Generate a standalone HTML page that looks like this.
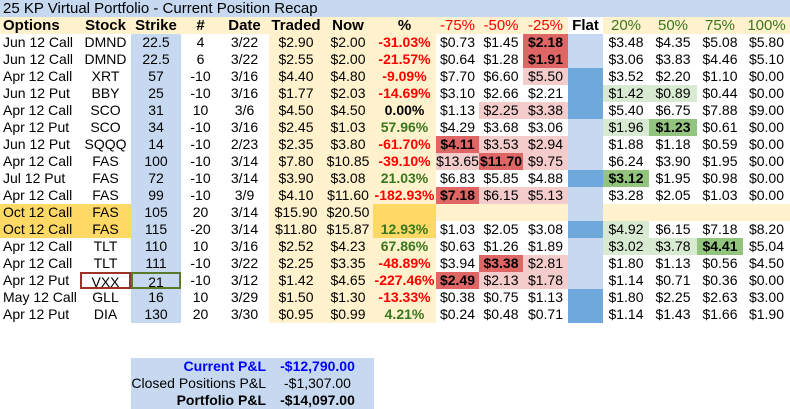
<!DOCTYPE html>
<html><head><meta charset="utf-8">
<style>
body{margin:0;width:790px;height:409px;background:#fff;font-family:"Liberation Sans",Arial,sans-serif;overflow:hidden;position:relative}
.c{position:absolute;height:17px;line-height:17px;font-size:14px;color:#000;white-space:nowrap;box-sizing:border-box}
.title{position:absolute;left:0;top:0;width:790px;height:17px;background:#c6d9f0;font-size:15px;line-height:17px;padding-left:3px;color:#000}
</style></head><body>
<div class="title">25 KP Virtual Portfolio - Current Position Recap</div>
<div id="grid"></div>
<div style="position:absolute;left:131px;top:358px;width:243px;height:51px;background:#c6d9f0">
 <div class="c" style="left:0;top:0;width:135px;text-align:right;color:#0000ff;font-weight:bold">Current P&amp;L</div>
 <div class="c" style="left:140px;top:0;width:93px;text-align:center;color:#0000ff;font-weight:bold">-$12,790.00</div>
 <div class="c" style="left:0;top:17px;width:135px;text-align:right">Closed Positions P&amp;L</div>
 <div class="c" style="left:140px;top:17px;width:93px;text-align:center">-$1,307.00</div>
 <div class="c" style="left:0;top:34px;width:135px;text-align:right;font-weight:bold">Portfolio P&amp;L</div>
 <div class="c" style="left:140px;top:34px;width:93px;text-align:center;font-weight:bold">-$14,097.00</div>
</div>
<script>
const headers=["Options","Stock","Strike","#","Date","Traded","Now","%","-75%","-50%","-25%","Flat","20%","50%","75%","100%"];
const options=["Jun 12 Call","Jun 12 Call","Apr 12 Call","Jun 12 Put","Apr 12 Call","Apr 12 Put","Jun 12 Put","Apr 12 Call","Jul 12 Put","Apr 12 Call","Oct 12 Call","Oct 12 Call","Apr 12 Call","Apr 12 Call","Apr 12 Put","May 12 Call","Apr 12 Put"];
const stocks=["DMND","DMND","XRT","BBY","SCO","SCO","SQQQ","FAS","FAS","FAS","FAS","FAS","TLT","TLT","VXX","GLL","DIA"];
const strikes=["22.5","22.5","57","25","31","34","14","100","72","99","105","115","110","111","21","16","130"];
const qty=["4","6","-10","-10","10","-10","-10","-10","-10","-10","20","-20","10","-10","-10","10","20"];
const dates=["3/22","3/22","3/16","3/16","3/6","3/16","2/23","3/14","3/14","3/9","3/14","3/14","3/16","3/22","3/12","3/29","3/30"];
const traded=["$2.90","$2.55","$4.40","$1.77","$4.50","$2.45","$2.35","$7.80","$3.90","$4.10","$15.90","$11.80","$2.52","$2.25","$1.42","$1.50","$0.95"];
const now=["$2.00","$2.00","$4.80","$2.03","$4.50","$1.03","$3.80","$10.85","$3.08","$11.60","$20.50","$15.87","$4.23","$3.35","$4.65","$1.30","$0.99"];
const pct=["-31.03%","-21.57%","-9.09%","-14.69%","0.00%","57.96%","-61.70%","-39.10%","21.03%","-182.93%","","12.93%","67.86%","-48.89%","-227.46%","-13.33%","4.21%"];
const m75=["$0.73","$0.64","$7.70","$3.10","$1.13","$4.29","$4.11","$13.65","$6.83","$7.18","","$1.03","$0.63","$3.94","$2.49","$0.38","$0.24"];
const m50=["$1.45","$1.28","$6.60","$2.66","$2.25","$3.68","$3.53","$11.70","$5.85","$6.15","","$2.05","$1.26","$3.38","$2.13","$0.75","$0.48"];
const m25=["$2.18","$1.91","$5.50","$2.21","$3.38","$3.06","$2.94","$9.75","$4.88","$5.13","","$3.08","$1.89","$2.81","$1.78","$1.13","$0.71"];
const p20=["$3.48","$3.06","$3.52","$1.42","$5.40","$1.96","$1.88","$6.24","$3.12","$3.28","","$4.92","$3.02","$1.80","$1.14","$1.80","$1.14"];
const p50=["$4.35","$3.83","$2.20","$0.89","$6.75","$1.23","$1.18","$3.90","$1.95","$2.05","","$6.15","$3.78","$1.13","$0.71","$2.25","$1.43"];
const p75=["$5.08","$4.46","$1.10","$0.44","$7.88","$0.61","$0.59","$1.95","$0.98","$1.03","","$7.18","$4.41","$0.56","$0.36","$2.63","$1.66"];
const p100=["$5.80","$5.10","$0.00","$0.00","$9.00","$0.00","$0.00","$0.00","$0.00","$0.00","","$8.20","$5.04","$4.50","$0.00","$3.00","$1.90"];
const flatDark=[0,0,1,1,1,0,0,0,1,0,0,1,0,0,0,1,1];
// highlight codes per row for -75,-50,-25,20,50,75: D=dark red,L=light red,g=light green,G=dark green
const hl=["..D...","..D...","..L...","...gg.",".LL...","...gG.","DLL...","LDL...","...G..","DLL...","......","...g..","...ggG",".DL...","DLL...","......","......"];
const colX=[0,80,131,181,220,269,323,373,436,479,523,568,603,649,697,743,790];
const align=["left","center","center","center","center","center","center","center","center","center","center","center","center","center","center","center"];
const g=document.getElementById('grid');
function cell(x,y,w,txt,st){const d=document.createElement('div');d.className='c';d.style.left=x+'px';d.style.top=y+'px';d.style.width=w+'px';d.textContent=txt;Object.assign(d.style,st);g.appendChild(d);return d;}
const colNames=["options","stock","strike","qty","date","traded","now","pct","minus75","minus50","minus25","flat","plus20","plus50","plus75","plus100"];
headers.forEach((h,i)=>{
 let col='#000';if(i>=8&&i<=10)col='#ff0000';if(i>=12)col='#38761d';
 let bg=(i==11)?'#ffffff':'#fff2cc';
 const d=cell(colX[i],17,colX[i+1]-colX[i],h,{background:bg,textAlign:align[i],color:col,fontWeight:(i>=8&&i!=11)?'normal':'bold',paddingLeft:i==0?'3px':'0',fontSize:'15px'});
 
 
});
const hlIdx={8:0,9:1,10:2,12:3,13:4,14:5};
for(let r=0;r<options.length;r++){
 const y=34+r*17;const oct=r==10||r==11;
 const vals=[options[r],stocks[r],strikes[r],qty[r],dates[r],traded[r],now[r],pct[r],m75[r],m50[r],m25[r],"",p20[r],p50[r],p75[r],p100[r]];
 for(let i=0;i<16;i++){
  let bg='#ffffff',color='#000',fw='normal';
  if(i==2)bg='#c6d9f0';
  if(i>=5&&i<=7)bg='#fff2cc';
  if(oct&&(i<=1))bg='#ffd966';
  if(oct&&i==7)bg='#ffd966';
  if(r==10&&i>=8&&i!=11)bg='#fff2cc';
  if(i==11)bg=flatDark[r]?'#6fa8dc':'#c6d9f0';
  if(i==7){const v=parseFloat(pct[r]);color=v<0?'#ff0000':(v>0?'#38761d':'#000');fw='bold';}
  if(hlIdx[i]!==undefined){const c=hl[r][hlIdx[i]];
   if(c=='D'){bg='#e06666';fw='bold';}else if(c=='L')bg='#f4cccc';else if(c=='g')bg='#d9ead3';else if(c=='G'){bg='#93c47d';fw='bold';}}
  const d=cell(colX[i],y,colX[i+1]-colX[i],vals[i],{background:bg,color:color,fontWeight:fw,textAlign:align[i],paddingLeft:i==0?'3px':'0'});
  if(r==14&&i==1)d.style.border='2px solid #a0302a';
  if(r==14&&i==2)d.style.border='2px solid #5a7a2a';
  
  
 }
}
</script>
</body></html>
